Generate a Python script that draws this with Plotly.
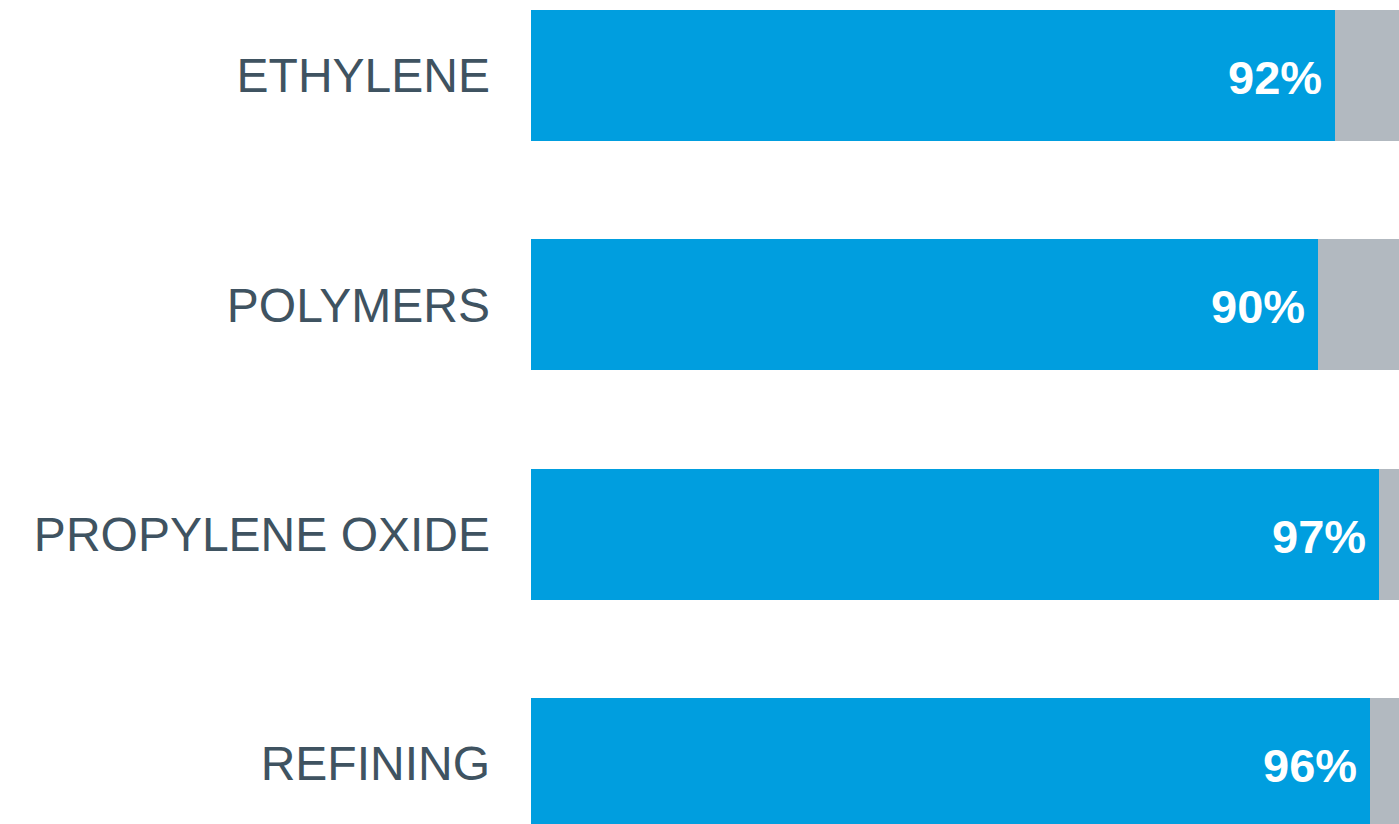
import plotly.graph_objects as go

# Operating rates by business segment (%)
segments = ["ETHYLENE", "POLYMERS", "PROPYLENE OXIDE", "REFINING"]
rates = [92, 90, 97, 96]
remainder = [100 - r for r in rates]

BLUE = "#009EDF"
GRAY = "#B2B9C0"
LABEL = "#3F5361"
FONT = "Liberation Sans, Arial, sans-serif"

fig = go.Figure()
fig.add_trace(go.Bar(
    y=segments, x=rates, orientation="h",
    marker=dict(color=BLUE, line=dict(width=0)),
    width=0.571, hoverinfo="skip", showlegend=False,
))
fig.add_trace(go.Bar(
    y=segments, x=remainder, orientation="h",
    marker=dict(color=GRAY, line=dict(width=0)),
    width=0.571, hoverinfo="skip", showlegend=False,
))

# Value labels at the inner right end of each blue bar
for seg, r in zip(segments, rates):
    fig.add_annotation(
        x=r, y=seg, text=f"<b>{r}%</b>", showarrow=False,
        xanchor="right", yanchor="middle", xshift=-11, yshift=-2,
        font=dict(family=FONT, size=47, color="white"),
    )

fig.update_layout(
    barmode="stack",
    width=1399, height=824,
    margin=dict(l=531, r=0, t=0, b=0),
    paper_bgcolor="white", plot_bgcolor="white",
    bargap=0,
)
fig.update_xaxes(range=[0, 99.3], visible=False, fixedrange=True)
fig.update_yaxes(
    range=[3.264, -0.329], showgrid=False, zeroline=False, showline=False,
    ticks="", ticklabelstandoff=40,
    tickfont=dict(family=FONT, size=48, color=LABEL),
    fixedrange=True,
)

fig.write_html("out.html", config={"displayModeBar": False})
